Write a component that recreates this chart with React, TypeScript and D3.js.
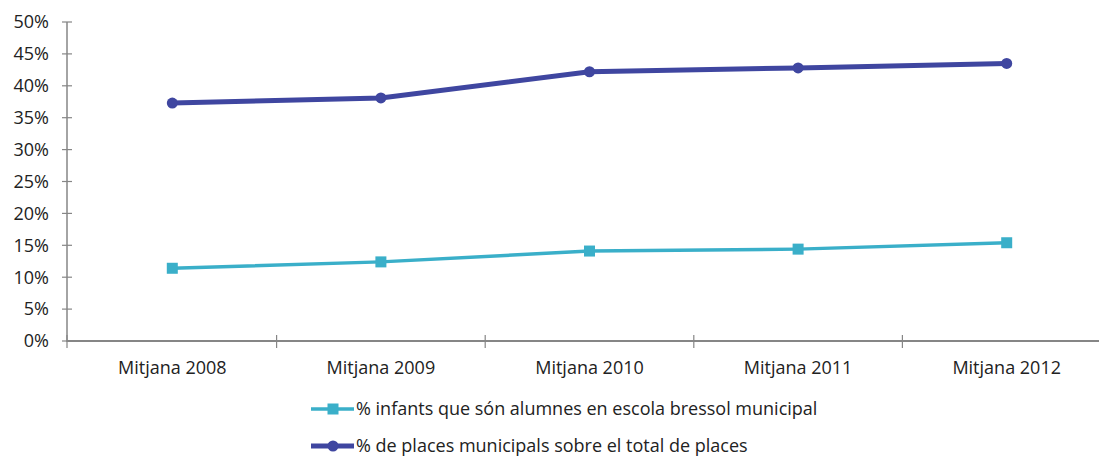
import { useEffect, useRef } from 'react'
import * as d3 from 'd3'

const categories = ['Mitjana 2008', 'Mitjana 2009', 'Mitjana 2010', 'Mitjana 2011', 'Mitjana 2012']
const infants = [11.4, 12.4, 14.1, 14.4, 15.4]
const places = [37.3, 38.1, 42.2, 42.8, 43.5]
const yTicks = [0, 5, 10, 15, 20, 25, 30, 35, 40, 45, 50]
const seriesNames = [
  '% infants que són alumnes en escola bressol municipal',
  '% de places municipals sobre el total de places',
]

const W = 1099
const H = 457
const FONT = '"Open Sans", Lato, sans-serif'
const FS = 18
const AXIS = '#868686'
const LIGHT = '#3aafc9'
const DARK = '#3f46a0'

export default function App() {
  const ref = useRef<SVGSVGElement | null>(null)

  useEffect(() => {
    const svg = d3.select(ref.current)
    svg.selectAll('*').remove()

    const left = 67
    const bandStart = 68
    const step = 208.6
    const x = d3.scaleBand().domain(categories).range([bandStart, bandStart + step * categories.length])
    const y = d3.scaleLinear().domain([0, 50]).range([341, 22])

    // y axis
    const g = svg.append('g')
    g.append('line').attr('x1', left).attr('x2', left).attr('y1', y(50)).attr('y2', y(0) + 1)
      .attr('stroke', AXIS).attr('stroke-width', 1.5)
    yTicks.forEach((t) => {
      g.append('line').attr('x1', left - 5).attr('x2', left + 5).attr('y1', y(t)).attr('y2', y(t))
        .attr('stroke', AXIS).attr('stroke-width', 1.2)
      g.append('text').attr('x', 49).attr('y', y(t)).attr('dy', '0.35em').attr('text-anchor', 'end')
        .attr('font-family', FONT).attr('font-size', FS).attr('fill', '#222').text(`${t}%`)
    })

    // x axis
    g.append('line').attr('x1', left).attr('x2', W).attr('y1', y(0)).attr('y2', y(0))
      .attr('stroke', AXIS).attr('stroke-width', 2)
    categories.forEach((c, i) => {
      const bx = i === 0 ? left : x(c)!
      g.append('line').attr('x1', bx).attr('x2', bx).attr('y1', y(0) - 6).attr('y2', y(0) + 7)
        .attr('stroke', AXIS).attr('stroke-width', 1.2)
      g.append('text').attr('x', x(c)! + x.bandwidth() / 2).attr('y', 374).attr('text-anchor', 'middle')
        .attr('font-family', FONT).attr('font-size', FS).attr('fill', '#222').text(c)
    })

    const cx = (i: number) => x(categories[i])! + x.bandwidth() / 2
    const line = d3.line<number>().x((_, i) => cx(i)).y((d) => y(d))

    // light series
    svg.append('path').attr('d', line(infants)).attr('fill', 'none').attr('stroke', LIGHT).attr('stroke-width', 3.4)
    svg.selectAll('rect.inf').data(infants).enter().append('rect').attr('class', 'inf')
      .attr('x', (_, i) => cx(i) - 5.5).attr('y', (d) => y(d) - 5.5).attr('width', 11).attr('height', 11)
      .attr('fill', LIGHT)

    // dark series
    svg.append('path').attr('d', line(places)).attr('fill', 'none').attr('stroke', DARK).attr('stroke-width', 5)
    svg.selectAll('circle.pl').data(places).enter().append('circle').attr('class', 'pl')
      .attr('cx', (_, i) => cx(i)).attr('cy', (d) => y(d)).attr('r', 5.5).attr('fill', DARK)

    // legend
    const lg = svg.append('g')
    const items = [
      { name: seriesNames[0], color: LIGHT, w: 3.4, y: 409, shape: 'rect' },
      { name: seriesNames[1], color: DARK, w: 5, y: 446, shape: 'circle' },
    ]
    items.forEach((it) => {
      lg.append('line').attr('x1', 311).attr('x2', 354).attr('y1', it.y).attr('y2', it.y)
        .attr('stroke', it.color).attr('stroke-width', it.w)
      if (it.shape === 'rect') {
        lg.append('rect').attr('x', 327.5).attr('y', it.y - 5.5).attr('width', 11).attr('height', 11).attr('fill', it.color)
      } else {
        lg.append('circle').attr('cx', 333).attr('cy', it.y).attr('r', 5.5).attr('fill', it.color)
      }
      lg.append('text').attr('x', 356).attr('y', it.y).attr('dy', '0.35em')
        .attr('font-family', FONT).attr('font-size', FS).attr('fill', '#222').text(it.name)
    })
  }, [])

  return (
    <svg ref={ref} width={W} height={H} viewBox={`0 0 ${W} ${H}`}
      style={{ position: 'absolute', left: 0, top: 0, background: '#fff' }} />
  )
}
